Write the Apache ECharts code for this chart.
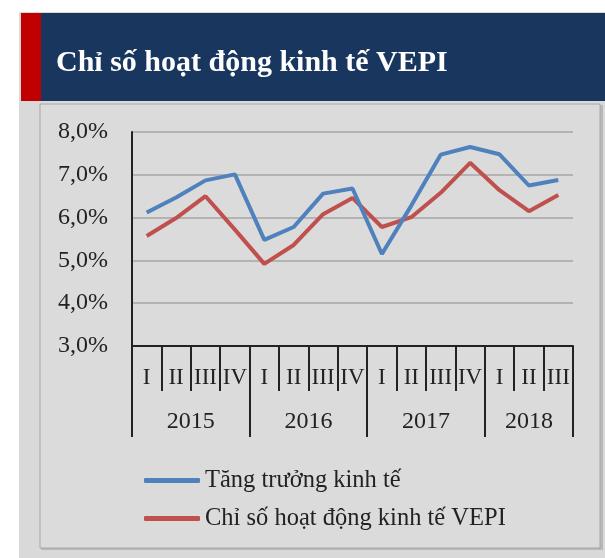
<!DOCTYPE html>
<html>
<head>
<meta charset="utf-8">
<script src="https://cdn.jsdelivr.net/npm/echarts@6/dist/echarts.min.js"></script>
<style>html,body{margin:0;padding:0;background:#fff;}#c{width:605px;height:558px;}</style>
</head>
<body>
<div id="c"></div>
<script>
const quarterLabels = ['I','II','III','IV','I','II','III','IV','I','II','III','IV','I','II','III'];
const years = ['2015','2016','2017','2018'];
const quartersPerYear = [4, 4, 4, 3];
const gdpGrowth = [6.12, 6.47, 6.87, 7.01, 5.48, 5.78, 6.56, 6.68, 5.15, 6.28, 7.47, 7.65, 7.48, 6.75, 6.88];
const vepi = [5.57, 5.99, 6.50, 5.72, 4.92, 5.36, 6.08, 6.46, 5.78, 6.01, 6.58, 7.28, 6.64, 6.15, 6.53];
const yMin = 3, yMax = 8, yStep = 1;
const seriesNames = ['Tăng trưởng kinh tế', 'Chỉ số hoạt động kinh tế VEPI'];
const titleText = 'Chỉ số hoạt động kinh tế VEPI';

const yearBounds = [0];
quartersPerYear.forEach(n => yearBounds.push(yearBounds[yearBounds.length - 1] + n));
const yearCenters = quartersPerYear.map((n, i) => yearBounds[i] + n / 2);

const FONT = 'Liberation Serif';
const chart = echarts.init(document.getElementById('c'), null, {renderer: 'canvas'});
chart.setOption({
  animation: false,
  backgroundColor: '#ffffff',
  graphic: [
    {type: 'rect', z: -10, shape: {x: 19, y: 12, width: 586, height: 546}, style: {fill: '#d9d9d9'}},
    {type: 'rect', z: -9, shape: {x: 21, y: 13, width: 584, height: 88}, style: {fill: '#19365e'}},
    {type: 'rect', z: -9, shape: {x: 21, y: 13, width: 20, height: 88}, style: {fill: '#c00000'}},
    {type: 'rect', z: -9, shape: {x: 41, y: 105, width: 562, height: 445}, style: {fill: '#b8b8b8'}},
    {type: 'rect', z: -8, shape: {x: 40, y: 104, width: 560, height: 444}, style: {fill: '#dbdbdb', stroke: '#a8a8a8', lineWidth: 1}}
  ],
  title: {
    text: titleText,
    left: 51, top: 43,
    textStyle: {color: '#ffffff', fontFamily: FONT, fontWeight: 'bold', fontSize: 30}
  },
  legend: {
    orient: 'vertical',
    left: 139, top: 463,
    itemWidth: 56, itemHeight: 5, itemGap: 13,
    icon: 'roundRect',
    textStyle: {fontFamily: FONT, fontSize: 24.5, color: '#222', lineHeight: 25},
    data: seriesNames
  },
  grid: {left: 132, right: 32, top: 132, bottom: 212, containLabel: false},
  xAxis: [
    {
      type: 'category',
      data: quarterLabels,
      position: 'bottom',
      boundaryGap: true,
      axisLine: {show: true, onZero: false, lineStyle: {color: '#222', width: 2}},
      axisTick: {show: true, interval: 0, length: 45, lineStyle: {color: '#222', width: 2}},
      axisLabel: {interval: 0, margin: 20, fontFamily: FONT, fontSize: 23, color: '#222'},
      splitLine: {show: false}
    },
    {
      type: 'value',
      min: 0, max: yearBounds[yearBounds.length - 1],
      position: 'bottom',
      axisLine: {show: false, onZero: false},
      axisTick: {show: true, customValues: yearBounds, length: 91, lineStyle: {color: '#222', width: 2}},
      axisLabel: {
        show: true, customValues: yearCenters, margin: 64,
        fontFamily: FONT, fontSize: 24, color: '#222',
        formatter: v => years[yearCenters.indexOf(v)]
      },
      splitLine: {show: false}
    }
  ],
  yAxis: {
    type: 'value',
    min: yMin, max: yMax, interval: yStep,
    axisLine: {show: true, lineStyle: {color: '#222', width: 2}},
    axisTick: {show: false},
    axisLabel: {margin: 24, fontFamily: FONT, fontSize: 24, color: '#222',
      formatter: v => v.toFixed(1).replace('.', ',') + '%'},
    splitLine: {show: true, lineStyle: {color: '#a6a6a6', width: 1.5}}
  },
  series: [
    {
      name: seriesNames[0], type: 'line', data: gdpGrowth, xAxisIndex: 0,
      symbol: 'none', color: '#4f81bd',
      lineStyle: {width: 4, color: '#4f81bd'}, z: 3
    },
    {
      name: seriesNames[1], type: 'line', data: vepi, xAxisIndex: 0,
      symbol: 'none', color: '#c0504d',
      lineStyle: {width: 4, color: '#c0504d'}, z: 2
    }
  ]
});
</script>
</body>
</html>
